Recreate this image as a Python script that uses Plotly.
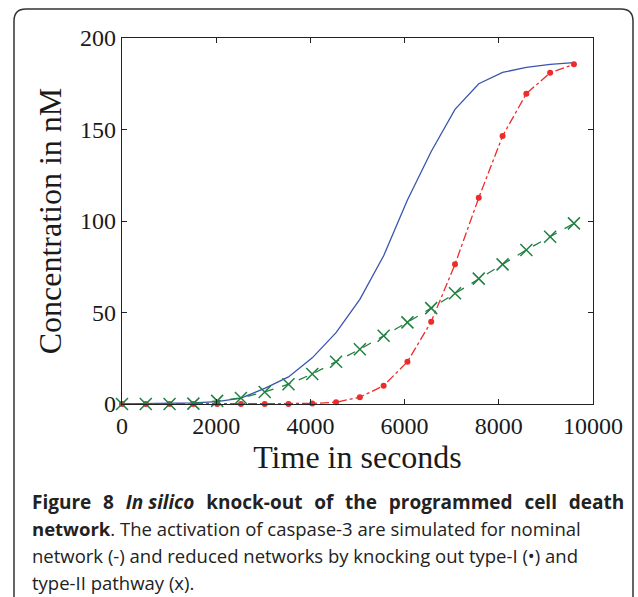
import plotly.graph_objects as go

# ---- data ----
time_s = [0, 505, 1010, 1515, 2020, 2525, 3030, 3535, 4040, 4545,
          5050, 5555, 6060, 6565, 7070, 7575, 8080, 8585, 9090, 9595]
nominal = [0, 0.1, 0.3, 0.6, 1.3, 3.2, 8.5, 14.8, 25.2, 39.0,
           57.2, 81.0, 111.5, 138.0, 161.0, 175.0, 181.2, 184.0, 185.6, 186.5]
type1_ko = [0, 0, 0, 0, 0, 0, 0, 0, 0.3, 1.0,
            3.7, 10.0, 23.1, 45.0, 76.3, 112.7, 146.4, 169.6, 181.0, 185.6]
type2_ko = [0, 0, 0, 0.2, 1.7, 3.3, 6.6, 10.8, 16.4, 23.1,
            29.9, 37.3, 44.6, 52.4, 60.5, 68.5, 76.3, 84.2, 91.4, 98.7]

x_ticks = [0, 2000, 4000, 6000, 8000, 10000]
y_ticks = [0, 50, 100, 150, 200]

caption_title_words = ["Figure", "8", "<i>In silico</i>", "knock-out", "of", "the",
                       "programmed", "cell", "death"]
caption_lines = [
    "<b>network</b>. The activation of caspase-3 are simulated for nominal",
    "network (-) and reduced networks by knocking out type-I (\u2022) and",
    "type-II pathway (x).",
]

W, H = 638, 597
L, R, T, B = 122, 45, 38, 193
PW, PH = W - L - R, H - T - B

def px(xp):
    return (xp - L) / PW

def py(yp):
    return (H - B - yp) / PH

fig = go.Figure()
fig.add_trace(go.Scatter(x=time_s, y=nominal, mode="lines",
                         line=dict(color="#3a55b0", width=1.3),
                         name="nominal", cliponaxis=False))
fig.add_trace(go.Scatter(x=time_s, y=type1_ko, mode="lines+markers",
                         line=dict(color="#ee2b2b", width=1.3, dash="dashdot"),
                         marker=dict(symbol="circle", size=6, color="#ee2b2b"),
                         name="type-I KO", cliponaxis=False))
fig.add_trace(go.Scatter(x=time_s, y=type2_ko, mode="lines+markers",
                         line=dict(color="#1f8040", width=1.3, dash="dash"),
                         marker=dict(symbol="x-thin", size=12,
                                     line=dict(color="#1f8040", width=1.5)),
                         name="type-II KO", cliponaxis=False))

axis_common = dict(showline=True, linecolor="#222", linewidth=1.2, mirror="ticks",
                   ticks="inside", ticklen=5, tickcolor="#222", showgrid=False,
                   zeroline=False,
                   tickfont=dict(family="Liberation Serif", size=24, color="#1a1a1a"))
fig.update_xaxes(range=[0, 10000], tickvals=x_ticks, ticktext=[str(v) for v in x_ticks],
                 title=dict(text="Time in seconds", standoff=2,
                            font=dict(family="Liberation Serif", size=32, color="#1a1a1a")),
                 **axis_common)
fig.update_yaxes(range=[0, 200], tickvals=y_ticks, ticktext=[str(v) for v in y_ticks],
                 title=dict(text="Concentration in nM", standoff=8,
                            font=dict(family="Liberation Serif", size=32, color="#1a1a1a")),
                 **axis_common)

# rounded border
r = 12
x0, x1, y0, y1 = px(14), px(633), py(9), py(605)
rx = r / PW
ry = r / PH
path = (f"M {x0},{y1} L {x0},{y0 - ry} Q {x0},{y0} {x0 + rx},{y0} "
        f"L {x1 - rx},{y0} Q {x1},{y0} {x1},{y0 - ry} L {x1},{y1}")
fig.add_shape(type="path", path=path, xref="paper", yref="paper",
              line=dict(color="#333", width=1.5), layer="above")

# caption title line (widened word gaps to mimic justification)
gap = "\u00a0\u00a0\u200a"
title_line = "<b>" + gap.join(caption_title_words) + "</b>"
fig.add_annotation(text=title_line, xref="paper", yref="paper", x=px(32), y=py(502),
                   xanchor="left", yanchor="middle", showarrow=False, xshift=-2,
                   font=dict(family="Open Sans", size=19, color="#222"))

ys = [528, 555, 582]
for txt, yy in zip(caption_lines, ys):
    fig.add_annotation(text=txt, xref="paper", yref="paper", x=px(32), y=py(yy),
                       xanchor="left", yanchor="middle", showarrow=False, xshift=-2,
                       font=dict(family="Open Sans", size=18.5, color="#222"))

fig.update_layout(width=W, height=H, margin=dict(l=L, r=R, t=T, b=B),
                  paper_bgcolor="white", plot_bgcolor="white", showlegend=False)

fig.write_html("out.html")
